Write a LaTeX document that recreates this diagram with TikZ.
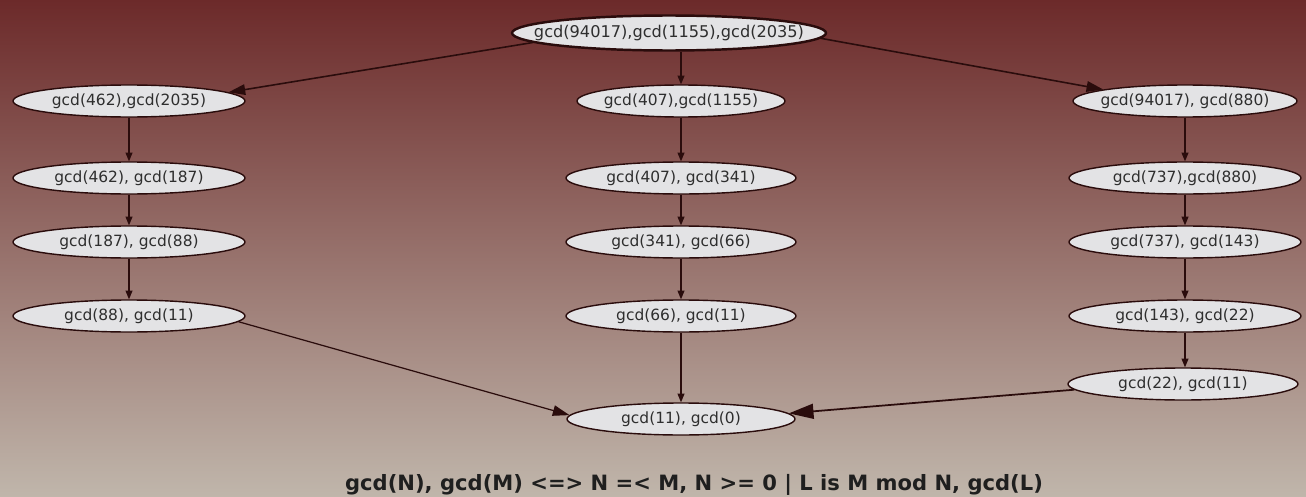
\documentclass[tikz,border=0pt]{standalone}
\usepackage{fontspec}
\setmainfont{DejaVu Sans}
\definecolor{BgTop}{HTML}{6C2A2A}
\definecolor{BgMid}{HTML}{9A7571}
\definecolor{BgBot}{HTML}{C0B6AB}
\definecolor{NodeFill}{HTML}{E3E3E5}
\definecolor{EdgeDark}{HTML}{2A0C0C}
\definecolor{TextGray}{HTML}{2E2E2E}
\usetikzlibrary{arrows.meta, positioning, shapes.geometric}

% the ellipse size is set by hand, not by its text
\newcommand{\glabel}[1]{\makebox[0pt]{#1}}

\tikzset{
  gcdnode/.style={ellipse, draw=EdgeDark, line width=0.8pt, fill=NodeFill,
    inner sep=0pt, minimum width=4.64cm, minimum height=0.64cm,
    text=TextGray, font=\fontsize{8.8}{10}\selectfont},
  edge/.style={->, EdgeDark, line width=0.6pt},
  bigedge/.style={EdgeDark, line width=0.9pt,
    -{Triangle[length=9.5pt, width=6pt]}}
}

\begin{document}
\begin{tikzpicture}[x=0.02cm, y=-0.02cm,
    >={Triangle[length=5pt, width=4pt]}]
  \shade[top color=BgTop, middle color=BgMid, bottom color=BgBot]
    (0,0) rectangle (1306,497);
  \useasboundingbox (0,0) rectangle (1306,497);

  % start goal
  \node[gcdnode, line width=1.4pt, minimum width=6.28cm, minimum height=0.7cm,
    font=\fontsize{9.2}{10}\selectfont]
    (top) at (669,33) {\glabel{gcd(94017),gcd(1155),gcd(2035)}};

  % left branch
  \node[gcdnode] (l1) at (129,101) {\glabel{gcd(462),gcd(2035)}};
  \node[gcdnode] (l2) at (129,178) {\glabel{gcd(462), gcd(187)}};
  \node[gcdnode] (l3) at (129,242) {\glabel{gcd(187), gcd(88)}};
  \node[gcdnode] (l4) at (129,316) {\glabel{gcd(88), gcd(11)}};

  % middle branch
  \node[gcdnode, minimum width=4.16cm] (m1) at (681,101) {\glabel{gcd(407),gcd(1155)}};
  \node[gcdnode, minimum width=4.6cm] (m2) at (681,178) {\glabel{gcd(407), gcd(341)}};
  \node[gcdnode, minimum width=4.6cm] (m3) at (681,242) {\glabel{gcd(341), gcd(66)}};
  \node[gcdnode, minimum width=4.6cm] (m4) at (681,316) {\glabel{gcd(66), gcd(11)}};

  % right branch
  \node[gcdnode, minimum width=4.48cm] (r1) at (1185,101) {\glabel{gcd(94017), gcd(880)}};
  \node[gcdnode] (r2) at (1185,178) {\glabel{gcd(737),gcd(880)}};
  \node[gcdnode] (r3) at (1185,242) {\glabel{gcd(737), gcd(143)}};
  \node[gcdnode] (r4) at (1185,316) {\glabel{gcd(143), gcd(22)}};
  \node[gcdnode, minimum width=4.6cm] (r5) at (1183,384) {\glabel{gcd(22), gcd(11)}};

  % result
  \node[gcdnode, minimum width=4.56cm] (bot) at (681,419) {\glabel{gcd(11), gcd(0)}};

  \draw[bigedge] (top.184) -- (l1.5);
  \draw[edge] (m1.north |- top.south) -- (m1);
  \draw[bigedge] (top.-2) -- (r1.172);

  \draw[edge] (l1) -- (l2);
  \draw[edge] (l2) -- (l3);
  \draw[edge] (l3) -- (l4);
  \draw[edge] (m1) -- (m2);
  \draw[edge] (m2) -- (m3);
  \draw[edge] (m3) -- (m4);
  \draw[edge] (r1) -- (r2);
  \draw[edge] (r2) -- (r3);
  \draw[edge] (r3) -- (r4);
  \draw[edge] (r4) -- (r4 |- r5.north);

  \draw[EdgeDark, line width=0.7pt, -{Triangle[length=9.5pt, width=6pt]}]
    (l4.-3) -- (bot.178);
  \draw[edge] (m4) -- (bot);
  \draw[EdgeDark, line width=1pt, -{Triangle[length=14pt, width=8.5pt]}]
    (r5.183) -- (bot.3);

  % rule
  \node[font=\bfseries\fontsize{12}{14}\selectfont, text=black!88] (rule) at (694,485)
    {gcd(N), gcd(M) <=> N =< M, N >= 0 | L is M mod N, gcd(L)};
\end{tikzpicture}
\end{document}
